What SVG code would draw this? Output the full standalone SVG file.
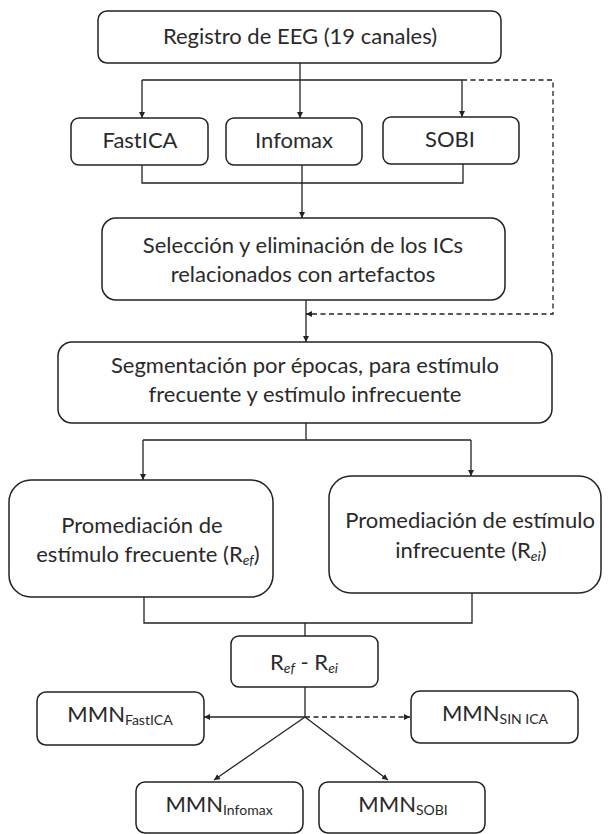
<svg xmlns="http://www.w3.org/2000/svg" width="609" height="834" viewBox="0 0 609 834">
<style>
.box{fill:#fff;stroke:#222;stroke-width:1.5}
.t{font-family:Lato,"Liberation Sans",sans-serif;font-size:22px;fill:#2a2a2a;text-anchor:middle}
.s{font-size:14px}
.c{fill:none;stroke:#222;stroke-width:1.3}
.d{stroke-dasharray:5 3.5}
</style>
<defs>
<marker id="ah" markerUnits="userSpaceOnUse" markerWidth="8" markerHeight="8" refX="6" refY="3" orient="auto">
<path d="M0,0 L6,3 L0,6 Z" fill="#222"/>
</marker>
</defs>
<rect width="609" height="834" fill="#fff"/>
<g id="connectors">
<path class="c" d="M300,63 V80"/>
<path class="c" d="M142,80 H462"/>
<path class="c" d="M142,80 V118" marker-end="url(#ah)"/>
<path class="c" d="M300,80 V118" marker-end="url(#ah)"/>
<path class="c" d="M462,80 V117" marker-end="url(#ah)"/>
<path class="c d" d="M462,80 H553 V314 H306" marker-end="url(#ah)"/>
<path class="c" d="M142,165 V183 H463 V164"/>
<path class="c" d="M302,165 V218" marker-end="url(#ah)"/>
<path class="c" d="M306,300 V342" marker-end="url(#ah)"/>
<path class="c" d="M306,423 V440"/>
<path class="c" d="M143,440 H471"/>
<path class="c" d="M143,440 V480" marker-end="url(#ah)"/>
<path class="c" d="M471,440 V476" marker-end="url(#ah)"/>
<path class="c" d="M144,597 V623 H472 V593"/>
<path class="c" d="M305,623 V636"/>
<path class="c" d="M305,687 V717"/>
<path class="c" d="M305,717 H204" marker-end="url(#ah)"/>
<path class="c d" d="M305,717 H410" marker-end="url(#ah)"/>
<path class="c" d="M305,717 L214,780" marker-end="url(#ah)"/>
<path class="c" d="M305,717 L388,780" marker-end="url(#ah)"/>
</g>
<g id="n-registro">
<rect class="box" x="98" y="11" width="403" height="52" rx="9"/>
<text class="t" x="300" y="44">Registro de EEG (19 canales)</text>
</g>
<g id="n-fastica">
<rect class="box" x="71" y="118" width="137" height="47" rx="8"/>
<text class="t" x="140" y="148">FastICA</text>
</g>
<g id="n-infomax">
<rect class="box" x="226" y="118" width="136" height="47" rx="8"/>
<text class="t" x="294" y="148">Infomax</text>
</g>
<g id="n-sobi">
<rect class="box" x="383" y="117" width="136" height="47" rx="8"/>
<text class="t" x="450" y="147">SOBI</text>
</g>
<g id="n-seleccion">
<rect class="box" x="102" y="218" width="403" height="82" rx="14"/>
<text class="t" x="303" y="253">Selección y eliminación de los ICs</text>
<text class="t" x="303" y="282">relacionados con artefactos</text>
</g>
<g id="n-segmentacion">
<rect class="box" x="58" y="342" width="494" height="81" rx="14"/>
<text class="t" x="305" y="373">Segmentación por épocas, para estímulo</text>
<text class="t" x="305" y="402">frecuente y estímulo infrecuente</text>
</g>
<g id="n-prom-frec">
<rect class="box" x="9" y="480" width="264" height="117" rx="22"/>
<text class="t" x="142" y="533">Promediación de</text>
<text class="t" x="148" y="562">estímulo frecuente (R<tspan class="s" dy="3" font-style="italic">ef</tspan><tspan dy="-3">)</tspan></text>
</g>
<g id="n-prom-infrec">
<rect class="box" x="329" y="476" width="272" height="117" rx="22"/>
<text class="t" x="470" y="528">Promediación de estímulo</text>
<text class="t" x="471" y="558">infrecuente (R<tspan class="s" dy="3" font-style="italic">ei</tspan><tspan dy="-3">)</tspan></text>
</g>
<g id="n-diff">
<rect class="box" x="231" y="636" width="147" height="51" rx="8"/>
<text class="t" x="304" y="670">R<tspan class="s" dy="3" font-style="italic">ef</tspan><tspan dy="-3"> - R</tspan><tspan class="s" dy="3" font-style="italic">ei</tspan></text>
</g>
<g id="n-mmn-fastica">
<rect class="box" x="37" y="692" width="167" height="53" rx="9"/>
<text class="t" x="120" y="722">MMN<tspan class="s" dy="3">FastICA</tspan></text>
</g>
<g id="n-mmn-sinica">
<rect class="box" x="411" y="691" width="167" height="52" rx="9"/>
<text class="t" x="495" y="721">MMN<tspan class="s" dy="3">SIN ICA</tspan></text>
</g>
<g id="n-mmn-infomax">
<rect class="box" x="136" y="782" width="167" height="51" rx="9"/>
<text class="t" x="219" y="812">MMN<tspan class="s" dy="3">Infomax</tspan></text>
</g>
<g id="n-mmn-sobi">
<rect class="box" x="319" y="782" width="166" height="51" rx="9"/>
<text class="t" x="403" y="812">MMN<tspan class="s" dy="3">SOBI</tspan></text>
</g>
</svg>
